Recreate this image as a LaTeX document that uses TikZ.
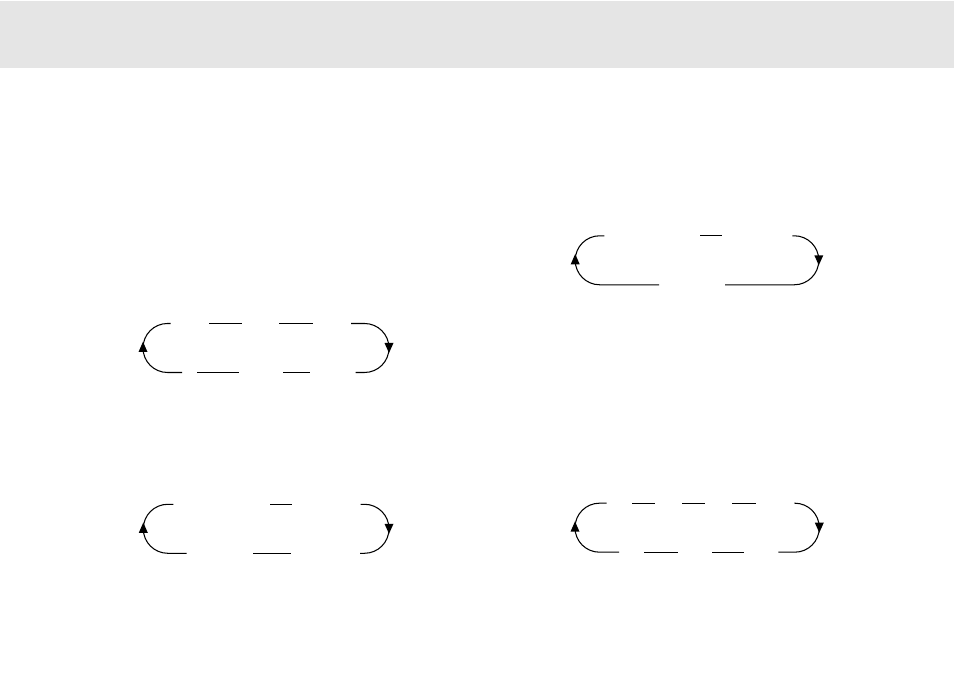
\documentclass[tikz,border=0pt]{standalone}
\begin{document}
\begin{tikzpicture}[x=0.02cm, y=0.02cm, line width=0.6pt,
	headup/.style={fill=black},
	headdown/.style={fill=black}]
			
			\useasboundingbox (0,0) rectangle (954,675);
			
			%Header band
			\fill[black!10] (0,606.5) rectangle (954,674);
			
			%Loop 1 (upper left)
			\draw (182,302.5) -- (167.5,302.5) arc[start angle=270, end angle=90, radius=24.5] 
			-- (170.7,351.5);
			\draw (209,351.5) -- (241.7,351.5);
			\draw (279,351.5) -- (312.7,351.5);
			\draw (351,351.5) -- (364.5,351.5) arc[start angle=90, end angle=-90, radius=24.5] 
			-- (355.7,302.5);
			\draw (283.3,302.5) -- (310,302.5);
			\draw (197.3,302.5) -- (239,302.5);
			\fill[headup] (143,333.3) -- (138.5,323) -- (147.5,323) -- cycle;
			\fill[headdown] (389,322) -- (384.5,332) -- (393.5,332) -- cycle;
			
			%Loop 2 (upper right)
			\draw (659,390.2) -- (599.7,390.2) arc[start angle=270, end angle=90, radius=24.5] 
			-- (604.3,439.2);
			\draw (700,439.2) -- (722.3,439.2);
			\draw (792.3,439.2) -- (794.3,439.2) arc[start angle=90, end angle=-90, radius=24.5] 
			-- (725,390.2);
			\fill[headup] (575.2,421) -- (570.7,410.7) -- (579.7,410.7) -- cycle;
			\fill[headdown] (818.8,409.7) -- (814.3,419.7) -- (823.3,419.7) -- cycle;
			
			%Loop 3 (lower left)
			\draw (186.7,121.7) -- (167.8,121.7) arc[start angle=270, end angle=90, radius=24.5] 
			-- (173.3,170.7);
			\draw (270,170.7) -- (292.3,170.7);
			\draw (360.7,170.7) -- (364.5,170.7) arc[start angle=90, end angle=-90, radius=24.5] 
			-- (360,121.7);
			\draw (253.3,121.7) -- (290.7,121.7);
			\fill[headup] (143.3,152.5) -- (138.8,142.2) -- (147.8,142.2) -- cycle;
			\fill[headdown] (389,141.2) -- (384.5,151.2) -- (393.5,151.2) -- cycle;
			
			%Loop 4 (lower right)
			\draw (619,122.8) -- (599.5,122.8) arc[start angle=270, end angle=90, radius=24.5] 
			-- (606.7,171.8);
			\draw (632.3,171.8) -- (655,171.8);
			\draw (682.3,171.8) -- (705,171.8);
			\draw (732.3,171.8) -- (755.7,171.8);
			\draw (794.3,171.8) -- (794.8,171.8) arc[start angle=90, end angle=-90, radius=24.5] 
			-- (778.3,122.8);
			\draw (712.3,122.8) -- (744,122.8);
			\draw (644.3,122.8) -- (677.7,122.8);
			\fill[headup] (575,153.6) -- (570.5,143.3) -- (579.5,143.3) -- cycle;
			\fill[headdown] (819.3,142.3) -- (814.8,152.3) -- (823.8,152.3) -- cycle;
			
\end{tikzpicture}
\end{document}
